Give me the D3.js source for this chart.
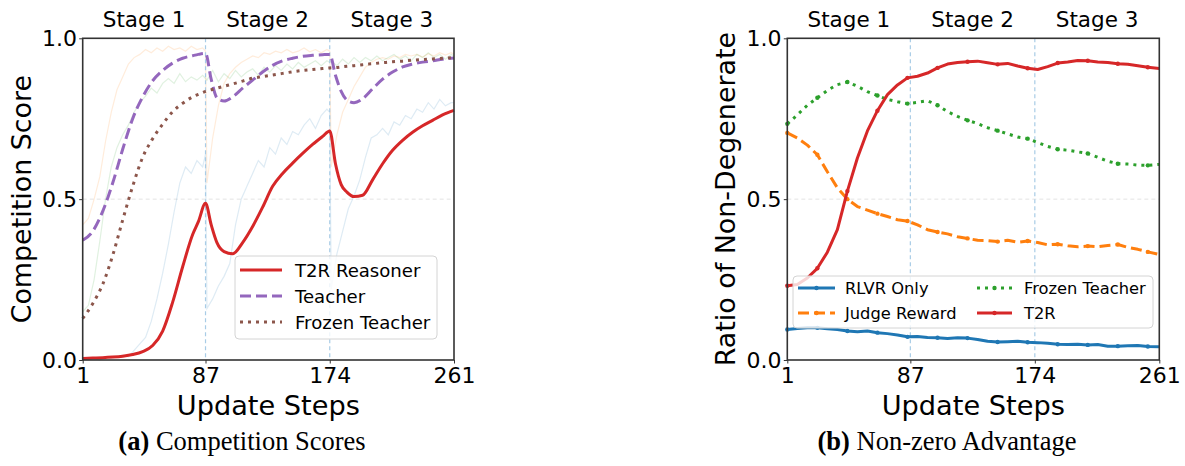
<!DOCTYPE html>
<html>
<head>
<meta charset="utf-8">
<script src="https://cdn.jsdelivr.net/npm/d3@7"></script>
<style>
body { margin: 0; background: #fff; }
svg text { font-family: "DejaVu Sans", sans-serif; fill: #000; }
svg text.caption { font-family: "Liberation Serif", "Times New Roman", serif; }
</style>
</head>
<body>
<div id="chart"></div>
<script>
// ---- shared ----
const xTicks = [1, 87, 174, 261];
const yTicks = [0, 0.5, 1];
const stageEdges = [1, 87, 174, 261];
const stageNames = ["Stage 1", "Stage 2", "Stage 3"];

// ---- (a) competition scores: smoothed curves ----
const smoothSteps = [1, 8, 15, 22, 29, 36, 43, 50, 57, 64, 71, 78, 82, 87, 91, 95, 100, 106, 113, 120, 127, 134, 141, 148, 155, 162, 169, 174, 178, 182, 186, 191, 197, 204, 211, 218, 225, 232, 239, 246, 253, 261];
const reasonerScore = [0.005, 0.006, 0.007, 0.009, 0.012, 0.017, 0.026, 0.045, 0.09, 0.18, 0.29, 0.39, 0.43, 0.487, 0.42, 0.365, 0.337, 0.33, 0.365, 0.415, 0.475, 0.54, 0.58, 0.612, 0.642, 0.67, 0.695, 0.712, 0.61, 0.545, 0.522, 0.508, 0.512, 0.56, 0.61, 0.652, 0.683, 0.708, 0.728, 0.745, 0.762, 0.776];
const teacherScore = [0.372, 0.40, 0.462, 0.55, 0.655, 0.75, 0.818, 0.868, 0.9, 0.923, 0.938, 0.946, 0.95, 0.953, 0.872, 0.815, 0.805, 0.818, 0.845, 0.87, 0.895, 0.916, 0.93, 0.938, 0.944, 0.947, 0.949, 0.95, 0.885, 0.835, 0.808, 0.80, 0.812, 0.843, 0.873, 0.895, 0.911, 0.92, 0.926, 0.93, 0.935, 0.939];
const frozenScore = [0.129, 0.175, 0.235, 0.325, 0.435, 0.54, 0.63, 0.688, 0.733, 0.772, 0.798, 0.818, 0.826, 0.835, 0.84, 0.845, 0.851, 0.858, 0.867, 0.876, 0.881, 0.886, 0.891, 0.896, 0.9, 0.903, 0.906, 0.908, 0.909, 0.911, 0.913, 0.915, 0.918, 0.921, 0.924, 0.927, 0.929, 0.932, 0.934, 0.936, 0.938, 0.94];

// ---- (a) raw (faint) curves ----
const rawSteps = [1, 5, 9, 13, 17, 21, 25, 29, 33, 37, 41, 45, 49, 53, 57, 61, 65, 69, 73, 77, 81, 85, 87,
  88, 92, 96, 100, 104, 108, 112, 116, 120, 124, 128, 132, 136, 140, 144, 148, 152, 156, 160, 164, 168, 172, 174,
  175, 179, 183, 187, 191, 195, 199, 203, 207, 211, 215, 219, 223, 227, 231, 235, 239, 243, 247, 251, 255, 259, 261];
const rawReasoner = [0.0, 0.0, 0.005, 0.0, 0.01, 0.005, 0.01, 0.015, 0.01, 0.03, 0.05, 0.07, 0.12, 0.19, 0.27, 0.36, 0.46, 0.55, 0.6, 0.58, 0.62, 0.6, 0.64,
  0.16, 0.19, 0.23, 0.26, 0.3, 0.42, 0.5, 0.54, 0.58, 0.62, 0.6, 0.66, 0.64, 0.69, 0.67, 0.71, 0.7, 0.73, 0.75, 0.72, 0.76, 0.78, 0.77,
  0.22, 0.33, 0.4, 0.47, 0.51, 0.56, 0.63, 0.69, 0.7, 0.72, 0.7, 0.74, 0.73, 0.76, 0.75, 0.78, 0.77, 0.8, 0.78, 0.81, 0.79, 0.8, 0.8];
const rawTeacher = [0.42, 0.44, 0.5, 0.57, 0.68, 0.77, 0.84, 0.88, 0.92, 0.94, 0.95, 0.965, 0.955, 0.97, 0.96, 0.975, 0.965, 0.97, 0.96, 0.975, 0.965, 0.97, 0.96,
  0.55, 0.69, 0.79, 0.86, 0.89, 0.91, 0.925, 0.935, 0.945, 0.94, 0.955, 0.95, 0.96, 0.955, 0.965, 0.955, 0.96, 0.97, 0.958, 0.965, 0.955, 0.965, 0.96,
  0.6, 0.7, 0.77, 0.81, 0.85, 0.88, 0.91, 0.925, 0.935, 0.94, 0.935, 0.945, 0.94, 0.95, 0.945, 0.95, 0.942, 0.952, 0.945, 0.955, 0.948, 0.955, 0.95];
const rawFrozen = [0.15, 0.17, 0.25, 0.37, 0.5, 0.6, 0.66, 0.7, 0.73, 0.77, 0.8, 0.82, 0.845, 0.83, 0.86, 0.875, 0.86, 0.89, 0.865, 0.88, 0.87, 0.885, 0.875,
  0.87, 0.9, 0.865, 0.89, 0.875, 0.9, 0.88, 0.895, 0.905, 0.885, 0.91, 0.895, 0.915, 0.9, 0.92, 0.905, 0.925, 0.91, 0.92, 0.93, 0.915, 0.93, 0.925,
  0.93, 0.915, 0.935, 0.92, 0.94, 0.925, 0.94, 0.93, 0.945, 0.93, 0.94, 0.95, 0.935, 0.945, 0.93, 0.95, 0.94, 0.955, 0.94, 0.95, 0.935, 0.95, 0.945];

// ---- (b) non-zero advantage ----
const ratioSteps = [1, 8, 15, 22, 29, 36, 43, 50, 57, 64, 71, 78, 85, 92, 99, 106, 113, 120, 127, 134, 141, 148, 155, 162, 169, 176, 183, 190, 197, 204, 211, 218, 225, 232, 239, 246, 253, 261];
const rlvrRatio = [0.095, 0.098, 0.1, 0.1, 0.097, 0.095, 0.09, 0.088, 0.09, 0.085, 0.082, 0.078, 0.072, 0.073, 0.07, 0.069, 0.067, 0.069, 0.068, 0.064, 0.058, 0.056, 0.057, 0.058, 0.055, 0.054, 0.052, 0.049, 0.048, 0.049, 0.047, 0.048, 0.043, 0.043, 0.044, 0.045, 0.042, 0.041];
const judgeRatio = [0.706, 0.69, 0.668, 0.638, 0.585, 0.535, 0.5, 0.477, 0.466, 0.455, 0.446, 0.436, 0.432, 0.42, 0.405, 0.398, 0.392, 0.383, 0.378, 0.372, 0.371, 0.368, 0.372, 0.366, 0.37, 0.365, 0.358, 0.36, 0.355, 0.352, 0.354, 0.352, 0.356, 0.359, 0.35, 0.344, 0.336, 0.328];
const frozenRatio = [0.734, 0.762, 0.792, 0.815, 0.838, 0.856, 0.864, 0.851, 0.834, 0.822, 0.81, 0.803, 0.797, 0.801, 0.806, 0.792, 0.772, 0.757, 0.745, 0.735, 0.722, 0.713, 0.703, 0.693, 0.688, 0.676, 0.664, 0.655, 0.652, 0.647, 0.642, 0.63, 0.618, 0.61, 0.609, 0.606, 0.605, 0.608];
const t2rRatio = [0.231, 0.235, 0.255, 0.285, 0.335, 0.405, 0.525, 0.628, 0.712, 0.775, 0.825, 0.855, 0.877, 0.882, 0.892, 0.908, 0.92, 0.925, 0.927, 0.929, 0.924, 0.919, 0.922, 0.914, 0.907, 0.903, 0.912, 0.923, 0.926, 0.931, 0.93, 0.926, 0.925, 0.921, 0.919, 0.915, 0.91, 0.906];

const W = 1185, H = 466;
const plotTop = 38.3, h = 321.7;

const svg = d3.select("#chart").append("svg")
    .attr("width", W)
    .attr("height", H);

function panel(ox, w, yLabel, yLabelX, capLetter, capText, capX) {
    let g = svg.append("g").attr("transform", `translate(${ox},${plotTop})`);
    let x = d3.scaleLinear().domain([1, 261]).range([0, w]);
    let y = d3.scaleLinear().domain([0, 1]).range([h, 0]);

    // faint grid at 0.5
    g.append("line")
        .attr("x1", 0).attr("x2", w)
        .attr("y1", y(0.5)).attr("y2", y(0.5))
        .attr("stroke", "#e4e4e4")
        .attr("stroke-width", 1)
        .attr("stroke-dasharray", "4,3");

    g.selectAll(".stagelabel")
        .data(stageNames)
        .enter().append("text")
        .attr("x", (d, i) => x((stageEdges[i] + stageEdges[i + 1]) / 2))
        .attr("y", -11)
        .attr("text-anchor", "middle")
        .style("font-size", "21.5px")
        .text(d => d);

    let xa = g.append("g")
        .attr("transform", `translate(0,${h})`)
        .call(d3.axisBottom(x).tickValues(xTicks).tickSize(3.5).tickPadding(3.5));
    xa.select(".domain").remove();
    xa.selectAll("line").attr("stroke", "#333");
    xa.selectAll("text").style("font-size", "22px");

    let ya = g.append("g")
        .call(d3.axisLeft(y).tickValues(yTicks).tickFormat(d3.format(".1f")).tickSize(3.5).tickPadding(2.2));
    ya.select(".domain").remove();
    ya.selectAll("line").attr("stroke", "#333");
    ya.selectAll("text").style("font-size", "22px");

    svg.append("text")
        .attr("transform", `translate(${yLabelX},${plotTop + h / 2}) rotate(-90)`)
        .attr("text-anchor", "middle")
        .style("font-size", "26.9px")
        .text(yLabel);

    svg.append("text")
        .attr("x", ox + w / 2)
        .attr("y", 415)
        .attr("text-anchor", "middle")
        .style("font-size", "27.2px")
        .text("Update Steps");

    let cap = svg.append("text")
        .attr("class", "caption")
        .attr("x", capX)
        .attr("y", 450)
        .attr("text-anchor", "middle")
        .style("font-size", "26.5px");
    cap.append("tspan").style("font-weight", "bold").text(capLetter);
    cap.append("tspan").text(" " + capText);

    return { g: g, x: x, y: y, w: w };
}

// stage boundaries, drawn above the faint curves
function stageLines(p) {
    p.g.selectAll(".stageline")
        .data(stageEdges.slice(1, 3))
        .enter().append("line")
        .attr("x1", d => p.x(d)).attr("x2", d => p.x(d))
        .attr("y1", 0).attr("y2", h)
        .attr("stroke", "#a8cce6")
        .attr("stroke-width", 1.2)
        .attr("stroke-dasharray", "4,3");
}

function frame(p) {
    p.g.append("rect")
        .attr("x", 0).attr("y", 0)
        .attr("width", p.w).attr("height", h)
        .attr("fill", "none")
        .attr("stroke", "#333")
        .attr("stroke-width", 1.6);
}

// ================= (a) =================
let a = panel(82.7, 371.3, "Competition Score", 30.5, "(a)", "Competition Scores", 242);

let rawLine = d3.line()
    .x((d, i) => a.x(rawSteps[i]))
    .y(d => a.y(d));

[[rawReasoner, "#1f77b4"], [rawTeacher, "#ff7f0e"], [rawFrozen, "#2ca02c"]].forEach(s => {
    a.g.append("path")
        .datum(s[0])
        .attr("fill", "none")
        .attr("stroke", s[1])
        .attr("stroke-opacity", 0.15)
        .attr("stroke-width", 1.2)
        .attr("d", rawLine);
});
stageLines(a);

let smoothLine = d3.line()
    .x((d, i) => a.x(smoothSteps[i]))
    .y(d => a.y(d))
    .curve(d3.curveMonotoneX);

let seriesA = [
    { name: "T2R Reasoner", vals: reasonerScore, color: "#d62728", dash: null },
    { name: "Teacher", vals: teacherScore, color: "#9467bd", dash: "11,5" },
    { name: "Frozen Teacher", vals: frozenScore, color: "#8c564b", dash: "3,5" }
];

seriesA.forEach(s => {
    a.g.append("path")
        .datum(s.vals)
        .attr("fill", "none")
        .attr("stroke", s.color)
        .attr("stroke-width", 3)
        .attr("stroke-dasharray", s.dash)
        .attr("stroke-linejoin", "round")
        .attr("d", smoothLine);
});
frame(a);

// legend (a)
let legA = svg.append("g");
legA.append("rect")
    .attr("x", 235).attr("y", 256)
    .attr("width", 202).attr("height", 83)
    .attr("rx", 4)
    .attr("fill", "#fff").attr("fill-opacity", 0.8)
    .attr("stroke", "#d4d4d4");
seriesA.forEach((s, i) => {
    let yy = 270 + i * 26;
    legA.append("line")
        .attr("x1", 240).attr("x2", 282)
        .attr("y1", yy).attr("y2", yy)
        .attr("stroke", s.color)
        .attr("stroke-width", 3)
        .attr("stroke-dasharray", s.dash);
    legA.append("text")
        .attr("x", 295).attr("y", yy)
        .attr("dy", "0.36em")
        .style("font-size", "18.1px")
        .text(s.name);
});

// ================= (b) =================
let b = panel(787.3, 372, "Ratio of Non-Degenerate", 734.5, "(b)", "Non-zero Advantage", 947);
stageLines(b);

let ratioLine = d3.line()
    .x((d, i) => b.x(ratioSteps[i]))
    .y(d => b.y(d));

let seriesB = [
    { name: "RLVR Only", vals: rlvrRatio, color: "#1f77b4", dash: null },
    { name: "Judge Reward", vals: judgeRatio, color: "#ff7f0e", dash: "11,5" },
    { name: "Frozen Teacher", vals: frozenRatio, color: "#2ca02c", dash: "3,5" },
    { name: "T2R", vals: t2rRatio, color: "#d62728", dash: null }
];

seriesB.forEach(s => {
    b.g.append("path")
        .datum(s.vals)
        .attr("fill", "none")
        .attr("stroke", s.color)
        .attr("stroke-width", 3)
        .attr("stroke-dasharray", s.dash)
        .attr("stroke-linejoin", "round")
        .attr("d", ratioLine);
    b.g.selectAll(null)
        .data(s.vals.filter((d, i) => i % 3 === 0))
        .enter().append("circle")
        .attr("cx", (d, i) => b.x(ratioSteps[i * 3]))
        .attr("cy", d => b.y(d))
        .attr("r", 2.2)
        .attr("fill", s.color);
});
frame(b);

// legend (b)
let legB = svg.append("g");
legB.append("rect")
    .attr("x", 793).attr("y", 276)
    .attr("width", 360).attr("height", 52)
    .attr("rx", 4)
    .attr("fill", "#fff").attr("fill-opacity", 0.8)
    .attr("stroke", "#d4d4d4");
seriesB.forEach((s, i) => {
    let col = Math.floor(i / 2), row = i % 2;
    let x1 = col ? 977 : 798, x2 = col ? 1012 : 835, tx = col ? 1024 : 845;
    let yy = 288 + row * 25;
    legB.append("line")
        .attr("x1", x1).attr("x2", x2)
        .attr("y1", yy).attr("y2", yy)
        .attr("stroke", s.color)
        .attr("stroke-width", 3)
        .attr("stroke-dasharray", s.dash);
    legB.append("circle")
        .attr("cx", (x1 + x2) / 2).attr("cy", yy)
        .attr("r", 2.2)
        .attr("fill", s.color);
    legB.append("text")
        .attr("x", tx).attr("y", yy)
        .attr("dy", "0.36em")
        .style("font-size", "16.3px")
        .text(s.name);
});
</script>
</body>
</html>
